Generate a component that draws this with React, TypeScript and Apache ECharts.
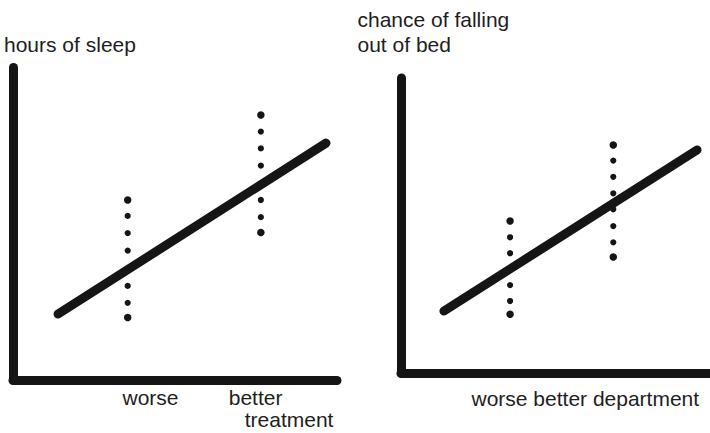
import React, { useEffect, useRef } from 'react';
import * as echarts from 'echarts';

// ---- data (arbitrary 0..10 units on both axes of each panel) ----
const leftWorseX = 3.54;
const leftBetterX = 7.65;
const leftWorseY = [5.76, 5.25, 4.7, 4.14, 3.01, 2.47, 2.0];
const leftBetterY = [8.48, 7.95, 7.41, 6.86, 5.76, 5.21, 4.72];
const leftTrend = [[1.39, 2.11], [9.66, 7.58]];

const rightWorseX = 3.53;
const rightBetterX = 6.87;
const rightWorseY = [5.15, 4.6, 4.06, 2.98, 2.44, 1.99];
const rightBetterY = [7.73, 7.2, 6.65, 6.09, 5.55, 4.98, 4.43, 3.93];
const rightTrend = [[1.39, 2.1], [9.58, 7.56]];

// ---- texts ----
const leftYTitle = ['hours of sleep'];
const leftXLabels = ['worse', 'better'];
const leftXTitle = ['treatment'];
const rightYTitle = ['chance of falling', 'out of bed'];
const rightXLabels = ['worse better department'];

const INK = '#151515';
const TXT = '#1e1e1e';
const FONT = '"Liberation Sans", Arial, Helvetica, sans-serif';

function dots(x: number, ys: number[]) {
  return ys.map((y, i) => ({
    value: [x, y],
    symbolSize: i === 0 || i === ys.length - 1 ? 7.5 : 6.2,
  }));
}

function axis(gridIndex: number) {
  return {
    type: 'value' as const,
    gridIndex,
    min: 0,
    max: 10,
    axisLine: { show: true, onZero: false, lineStyle: { color: INK, width: 9, cap: 'round' } },
    axisTick: { show: false },
    axisLabel: { show: false },
    splitLine: { show: false },
  };
}

function txt(text: string, x: number, y: number) {
  return {
    type: 'text',
    x,
    y,
    style: {
      text,
      fill: TXT,
      fontSize: 21,
      fontFamily: FONT,
      align: 'left',
      verticalAlign: 'middle',
    },
  };
}

export default function App() {
  const ref = useRef<HTMLDivElement>(null);
  useEffect(() => {
    if (!ref.current) return;
    const chart = echarts.init(ref.current, undefined, { renderer: 'svg' });
    const lineS = (data: number[][], idx: number) => ({
      type: 'line',
      xAxisIndex: idx,
      yAxisIndex: idx,
      data,
      symbol: 'none',
      z: 3,
      lineStyle: { color: INK, width: 9, cap: 'round', opacity: 1 },
    });
    const scat = (x: number, ys: number[], idx: number) => ({
      type: 'scatter',
      xAxisIndex: idx,
      yAxisIndex: idx,
      symbol: 'circle',
      data: dots(x, ys),
      z: 2,
      itemStyle: { color: INK, opacity: 1 },
    });
    chart.setOption({
      animation: false,
      backgroundColor: '#ffffff',
      grid: [
        { left: 13, top: 67.5, width: 324, height: 312.5 },
        { left: 401, top: 78, width: 309, height: 295 },
      ],
      xAxis: [axis(0), axis(1)],
      yAxis: [axis(0), axis(1)],
      series: [
        scat(leftWorseX, leftWorseY, 0),
        scat(leftBetterX, leftBetterY, 0),
        lineS(leftTrend, 0),
        scat(rightWorseX, rightWorseY, 1),
        scat(rightBetterX, rightBetterY, 1),
        lineS(rightTrend, 1),
      ],
      graphic: [
        txt(leftYTitle[0], 4, 44.4),
        txt(leftXLabels[0], 122.5, 397.7),
        txt(leftXLabels[1], 228.7, 397.7),
        txt(leftXTitle[0], 244.7, 419.4),
        txt(rightYTitle[0], 357.5, 19.4),
        txt(rightYTitle[1], 357.5, 44.4),
        txt(rightXLabels[0], 471.5, 398.7),
      ],
    });
    return () => chart.dispose();
  }, []);
  return (
    <div
      ref={ref}
      style={{ position: 'absolute', left: 0, top: 0, width: 710, height: 433 }}
    />
  );
}
